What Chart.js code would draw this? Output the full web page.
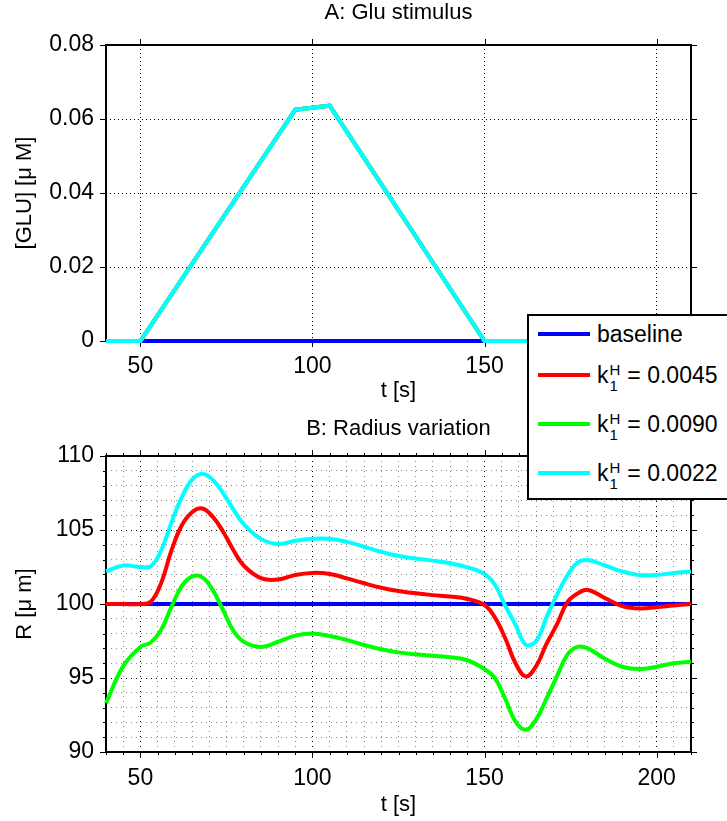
<!DOCTYPE html>
<html>
<head>
<meta charset="utf-8">
<title>Glu stimulus and radius variation</title>
<script src="https://cdn.jsdelivr.net/npm/chart.js@4.4.1/dist/chart.umd.min.js"></script>
<style>
  html, body { margin: 0; padding: 0; background: #fff; overflow: hidden; }
  body { width: 727px; height: 821px; position: relative; font-family: "Liberation Sans", Arial, Helvetica, sans-serif; }
  #top { position: absolute; left: 0; top: 0; }
  #bottom { position: absolute; left: 0; top: 400px; }
  #legend { position: absolute; left: 527px; top: 314px; width: 240px; height: 186px; border: 2px solid #000; background: #fff; box-sizing: border-box; z-index: 5; }
  .row { position: absolute; left: 9px; height: 40px; display: flex; align-items: center; font-size: 23px; color: #000; white-space: nowrap; }
  .swatch { width: 52px; height: 4px; margin-right: 7px; }
  .ss { display: inline-flex; flex-direction: column; font-size: 15px; line-height: 16px; margin: 0 7px 0 1px; position: relative; top: 3px; }
</style>
</head>
<body>
<canvas id="top" width="727" height="410"></canvas>
<canvas id="bottom" width="727" height="421"></canvas>

<div id="legend">
  <div class="row" style="top:-2px"><span class="swatch" style="background:#0000ff"></span>baseline</div>
  <div class="row" style="top:39px"><span class="swatch" style="background:#ff0000"></span>k<span class="ss"><span>H</span><span>1</span></span>= 0.0045</div>
  <div class="row" style="top:88px"><span class="swatch" style="background:#00ff00"></span>k<span class="ss"><span>H</span><span>1</span></span>= 0.0090</div>
  <div class="row" style="top:137px"><span class="swatch" style="background:#00ffff"></span>k<span class="ss"><span>H</span><span>1</span></span>= 0.0022</div>
</div>

<script>
// A: glutamate stimulus
const tGlu = [40, 50, 95, 105, 150, 210];
const gluBaseline = [0, 0, 0, 0, 0, 0];
const gluStim = [0, 0, 0.0625, 0.0636, 0, 0];   // same for all three k1H runs

// B: radius
const tR = [40, 45, 50, 53, 56, 59, 62, 65, 68, 71, 74, 77, 80, 85, 90, 95, 100, 105, 110, 115,
            120, 125, 130, 135, 140, 145, 150, 153, 156, 159, 162, 165, 168, 171, 174, 177, 180, 185, 190, 195,
            200, 205, 210];
const rBaseline = tR.map(() => 100);
const rRed = [100.0, 100.0, 100.0, 100.15, 101.4, 103.6, 105.3, 106.2, 106.45, 105.9, 104.9, 103.65, 102.6, 101.75, 101.65, 101.96, 102.1, 102.03, 101.73, 101.4,
              101.1, 100.88, 100.72, 100.6, 100.5, 100.34, 99.93, 99.1, 97.7, 96.0, 95.1, 95.8, 97.3, 98.6, 100.1, 100.7, 100.95, 100.4, 99.86, 99.7,
              99.78, 99.9, 100.0];
const rGreen = [93.3, 95.8, 97.1, 97.4, 98.24, 99.8, 101.2, 101.85, 101.8, 100.95, 99.6, 98.2, 97.45, 97.1, 97.45, 97.86, 98.0, 97.84, 97.57, 97.23,
                96.94, 96.73, 96.6, 96.5, 96.4, 96.2, 95.6, 95.0, 93.6, 92.05, 91.5, 92.2, 93.6, 95.1, 96.55, 97.1, 97.0, 96.3, 95.76, 95.6,
                95.76, 96.0, 96.1];
const rCyan = [102.2, 102.6, 102.5, 102.55, 103.6, 105.5, 107.2, 108.4, 108.8, 108.4, 107.5, 106.4, 105.4, 104.4, 104.05, 104.28, 104.41, 104.41, 104.2, 103.87,
               103.53, 103.24, 103.08, 102.93, 102.75, 102.48, 102.03, 101.3, 99.9, 98.6, 97.25, 97.5, 99.1, 100.6, 101.9, 102.8, 102.97, 102.6, 102.2, 101.96,
               101.96, 102.1, 102.2];

// tick labels
const topXTicks = [50, 100, 150, 200];
const topYTicks = [0, 0.02, 0.04, 0.06, 0.08];
const botXTicks = [50, 100, 150, 200];
const botYTicks = [90, 95, 100, 105, 110];
const botXMinor = 5;
const botYMinor = 1;

Chart.defaults.font.family = '"Liberation Sans", Arial, Helvetica, sans-serif';
Chart.defaults.color = '#000';

function pts(xs, ys) {
    return xs.map((x, i) => ({x: x, y: ys[i]}));
}

function stepTicks(min, max, step) {
    const out = [];
    for (let v = min; v <= max + 1e-9; v += step) out.push({value: +v.toFixed(6)});
    return out;
}

// matlab style box with outward tick marks, drawn under the lines
const framePlugin = {
    id: 'frame',
    beforeDatasetsDraw(chart) {
        const {ctx, chartArea: a, scales} = chart;
        ctx.save();
        ctx.strokeStyle = '#000';
        ctx.lineWidth = 1;
        ctx.beginPath();
        scales.x.ticks.forEach(t => {
            const len = t.label === '' ? 3 : 6;
            const x = Math.round(scales.x.getPixelForValue(t.value)) + 0.5;
            ctx.moveTo(x, a.top); ctx.lineTo(x, a.top - len);
            ctx.moveTo(x, a.bottom); ctx.lineTo(x, a.bottom + len);
        });
        scales.y.ticks.forEach(t => {
            const len = t.label === '' ? 3 : 6;
            const y = Math.round(scales.y.getPixelForValue(t.value)) + 0.5;
            ctx.moveTo(a.left, y); ctx.lineTo(a.left - len, y);
            ctx.moveTo(a.right, y); ctx.lineTo(a.right + len, y);
        });
        ctx.stroke();
        ctx.lineWidth = 2;
        ctx.strokeRect(a.left, a.top, a.right - a.left, a.bottom - a.top);
        ctx.restore();
    }
};

function series(label, data, color, order, smooth) {
    return {
        label: label,
        data: data,
        borderColor: color,
        backgroundColor: color,
        borderWidth: 4,
        pointRadius: 0,
        fill: false,
        order: order,
        clip: 4,
        tension: smooth ? 0.4 : 0
    };
}

new Chart(document.getElementById('top'), {
    type: 'line',
    data: {
        datasets: [
            series('baseline', pts(tGlu, gluBaseline), '#0000ff', 3, false),
            series('k1H = 0.0045', pts(tGlu, gluStim), '#ff0000', 2, false),
            series('k1H = 0.0090', pts(tGlu, gluStim), '#00ff00', 1, false),
            series('k1H = 0.0022', pts(tGlu, gluStim), '#00ffff', 0, false)
        ]
    },
    options: {
        responsive: false,
        animation: false,
        layout: {padding: {left: 0, right: 36, top: 0, bottom: 0}},
        plugins: {
            legend: {display: false},
            tooltip: {enabled: false},
            title: {
                display: true, text: 'A: Glu stimulus', fullSize: false,
                font: {size: 22, weight: 'normal'}, padding: {top: 0, bottom: 18.6}
            }
        },
        scales: {
            x: {
                type: 'linear', min: 40, max: 210,
                afterBuildTicks: s => { s.ticks = topXTicks.map(v => ({value: v})); },
                afterFit: s => { s.height = 69; },
                grid: {color: '#000', lineWidth: 1, drawTicks: false},
                border: {display: false, dash: [1, 3]},
                ticks: {padding: 12, font: {size: 23}, maxRotation: 0, autoSkip: false},
                title: {display: true, text: 't [s]', font: {size: 22}, padding: {top: 0, bottom: 6}}
            },
            y: {
                type: 'linear', min: 0, max: 0.08,
                afterBuildTicks: s => { s.ticks = topYTicks.map(v => ({value: v})); },
                afterFit: s => { s.width = 106; },
                grid: {color: '#000', lineWidth: 1, drawTicks: false},
                border: {display: false, dash: [1, 3]},
                ticks: {padding: 12, font: {size: 23}, callback: v => v === 0 ? '0' : v.toFixed(2)},
                title: {display: true, text: '[GLU] [\u03bc M]', font: {size: 22}, padding: {top: 12, bottom: 0}}
            }
        }
    },
    plugins: [framePlugin]
});

new Chart(document.getElementById('bottom'), {
    type: 'line',
    data: {
        datasets: [
            series('baseline', pts(tR, rBaseline), '#0000ff', 3, true),
            series('k1H = 0.0045', pts(tR, rRed), '#ff0000', 2, true),
            series('k1H = 0.0090', pts(tR, rGreen), '#00ff00', 1, true),
            series('k1H = 0.0022', pts(tR, rCyan), '#00ffff', 0, true)
        ]
    },
    options: {
        responsive: false,
        animation: false,
        layout: {padding: {left: 0, right: 36, top: 0, bottom: 0}},
        plugins: {
            legend: {display: false},
            tooltip: {enabled: false},
            title: {
                display: true, text: 'B: Radius variation', fullSize: false,
                font: {size: 22, weight: 'normal'}, padding: {top: 15.8, bottom: 13.8}
            }
        },
        scales: {
            x: {
                type: 'linear', min: 40, max: 210,
                afterBuildTicks: s => { s.ticks = stepTicks(40, 210, botXMinor); },
                afterFit: s => { s.height = 69; },
                grid: {
                    color: c => botXTicks.includes(c.tick && c.tick.value) ? '#000' : 'rgba(0,0,0,0.45)',
                    lineWidth: 1, drawTicks: false
                },
                border: {display: false, dash: [1, 4]},
                ticks: {
                    padding: 13, font: {size: 23}, maxRotation: 0, autoSkip: false,
                    callback: v => botXTicks.includes(v) ? String(v) : ''
                },
                title: {display: true, text: 't [s]', font: {size: 22}, padding: {top: 0, bottom: 3}}
            },
            y: {
                type: 'linear', min: 90, max: 110,
                afterBuildTicks: s => { s.ticks = stepTicks(90, 110, botYMinor); },
                afterFit: s => { s.width = 106; },
                grid: {
                    color: c => botYTicks.includes(c.tick && c.tick.value) ? '#000' : 'rgba(0,0,0,0.45)',
                    lineWidth: 1, drawTicks: false
                },
                border: {display: false, dash: [1, 4]},
                ticks: {
                    padding: 12, font: {size: 23}, autoSkip: false,
                    callback: v => botYTicks.includes(v) ? String(v) : ''
                },
                title: {display: true, text: 'R [\u03bc m]', font: {size: 22}, padding: {top: 12, bottom: 0}}
            }
        }
    },
    plugins: [framePlugin]
});
</script>
</body>
</html>
